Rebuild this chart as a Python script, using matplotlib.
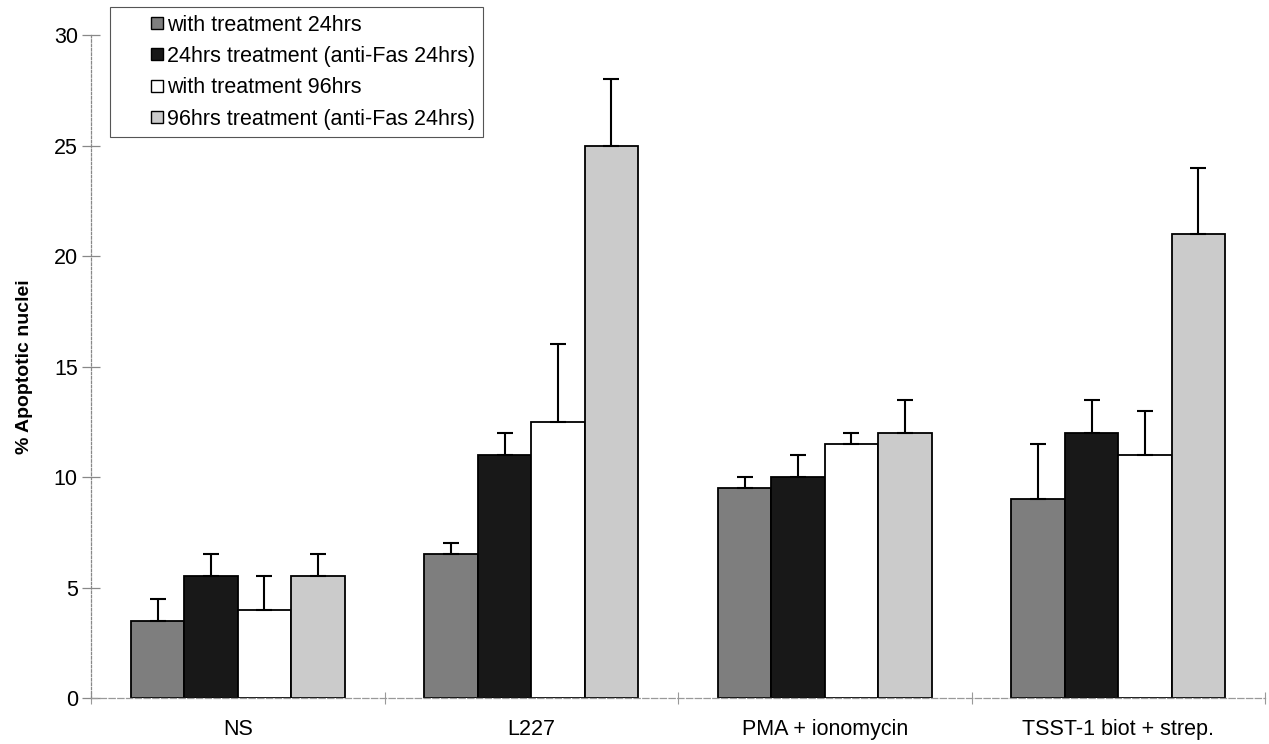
import matplotlib
matplotlib.use("Agg")
import matplotlib.pyplot as plt
import matplotlib.patches as mpatches
from matplotlib.legend_handler import HandlerPatch
import numpy as np

plt.rcParams['font.family'] = ['Liberation Sans', 'DejaVu Sans']

categories = ["NS", "L227", "PMA + ionomycin", "TSST-1 biot + strep."]
series_names = ["with treatment 24hrs", "24hrs treatment (anti-Fas 24hrs)",
                "with treatment 96hrs", "96hrs treatment (anti-Fas 24hrs)"]
values = [
    [3.5, 6.5, 9.5, 9.0],
    [5.5, 11.0, 10.0, 12.0],
    [4.0, 12.5, 11.5, 11.0],
    [5.5, 25.0, 12.0, 21.0],
]
errors = [
    [1.0, 0.5, 0.5, 2.5],
    [1.0, 1.0, 1.0, 1.5],
    [1.5, 3.5, 0.5, 2.0],
    [1.0, 3.0, 1.5, 3.0],
]
colors = ["#7e7e7e", "#181818", "#ffffff", "#cbcbcb"]

fig = plt.figure(figsize=(12.69, 7.44), dpi=100)
ax = fig.add_axes([91/1269, 1-698/744, 1174/1269, (698-35)/744])

x = np.arange(len(categories))
w = 0.182
for i in range(4):
    pos = x + (i - 1.5) * w
    ax.bar(pos, values[i], width=w, color=colors[i], edgecolor="black",
           linewidth=1.3, zorder=2)
    ax.errorbar(pos, values[i], yerr=[np.zeros(4), errors[i]], fmt="none",
                ecolor="black", elinewidth=1.5, capsize=6, capthick=1.5, zorder=3)

ax.set_xlim(-0.5, 3.5)
ax.set_ylim(0, 30)
ax.set_yticks([0, 5, 10, 15, 20, 25, 30])
ax.set_xticks(x)
ax.set_xticklabels(categories, fontsize=15.5)
ax.tick_params(axis='x', length=0, pad=15)
ax.set_xticks(np.arange(-0.5, 4.0, 1.0), minor=True)
ax.tick_params(axis='x', which='minor', direction='inout', length=8, color='#999999', width=0.8)
ax.tick_params(axis='y', direction='inout', length=13, color='#888888', width=0.9,
               labelsize=15.5, pad=3)
ax.set_ylabel("% Apoptotic nuclei", fontsize=14, fontweight='bold', labelpad=15)

for s in ['top', 'right']:
    ax.spines[s].set_visible(False)
ax.spines['left'].set_linestyle((0, (2, 1.5)))
ax.spines['left'].set_color('#888888')
ax.spines['left'].set_linewidth(0.9)
ax.spines['bottom'].set_linestyle((0, (5, 2)))
ax.spines['bottom'].set_color('#999999')
ax.spines['bottom'].set_linewidth(0.9)


def small_square(legend, orig_handle, xdescent, ydescent, width, height, fontsize):
    s = 12.0 * 72.0 / 100.0  # square side in points
    return mpatches.Rectangle((width - s - xdescent, -ydescent + (height - s) / 2), s, s)


proxies = [mpatches.Rectangle((0, 0), 1, 1, facecolor=c, edgecolor='black', linewidth=1.0)
           for c in colors]

leg = fig.legend(handles=proxies, labels=series_names, loc='upper left',
                 bbox_to_anchor=(110/1269, 1-7/744),
                 fontsize=15.5, frameon=True, fancybox=False, framealpha=1,
                 edgecolor='#555555', handlelength=2.1, handleheight=0.7,
                 handletextpad=0.22, labelspacing=0.48, borderpad=0.35,
                 borderaxespad=0,
                 handler_map={mpatches.Rectangle: HandlerPatch(patch_func=small_square)})
leg.get_frame().set_linewidth(0.8)

fig.savefig("out.png", dpi=100)
